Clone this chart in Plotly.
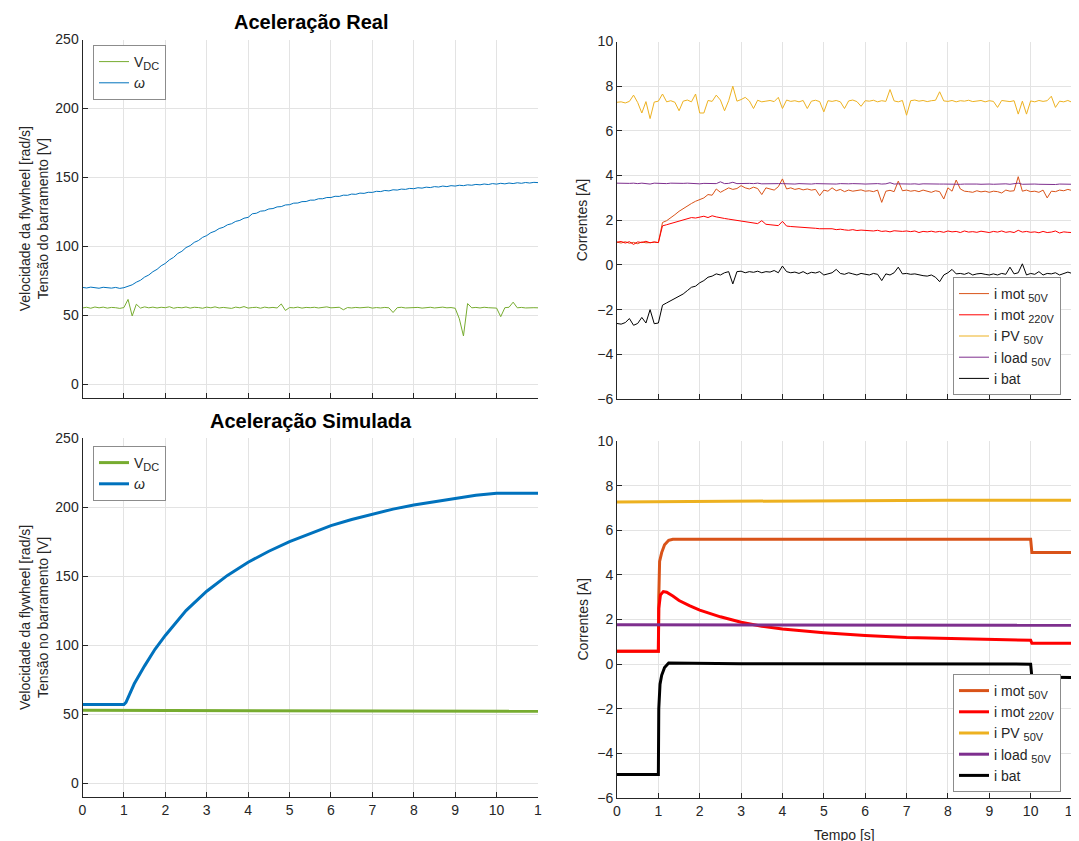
import plotly.graph_objects as go

# ---------------- DATA ----------------
TIME_REAL = [0.0, 0.1, 0.2, 0.3, 0.4, 0.5, 0.6, 0.7, 0.8, 0.9, 1.0,
             1.1, 1.2, 1.3, 1.4, 1.5, 1.6, 1.7, 1.8, 1.9, 2.0,
             2.1, 2.2, 2.3, 2.4, 2.5, 2.6, 2.7, 2.8, 2.9, 3.0,
             3.1, 3.2, 3.3, 3.4, 3.5, 3.6, 3.7, 3.8, 3.9, 4.0,
             4.1, 4.2, 4.3, 4.4, 4.5, 4.6, 4.7, 4.8, 4.9, 5.0,
             5.1, 5.2, 5.3, 5.4, 5.5, 5.6, 5.7, 5.8, 5.9, 6.0,
             6.1, 6.2, 6.3, 6.4, 6.5, 6.6, 6.7, 6.8, 6.9, 7.0,
             7.1, 7.2, 7.3, 7.4, 7.5, 7.6, 7.7, 7.8, 7.9, 8.0,
             8.1, 8.2, 8.3, 8.4, 8.5, 8.6, 8.7, 8.8, 8.9, 9.0,
             9.1, 9.2, 9.3, 9.4, 9.5, 9.6, 9.7, 9.8, 9.9, 10.0,
             10.1, 10.2, 10.3, 10.4, 10.5, 10.6, 10.7, 10.8, 10.9, 11.0]

VDC_REAL = [55.3, 55.8, 55.1, 56.0, 55.4, 55.9, 55.2, 55.7, 55.5, 55.0, 55.6,
            61.5, 49.5, 58.0, 55.2, 56.1, 55.4, 55.9, 55.3, 55.8, 55.5,
            56.2, 55.1, 55.7, 55.4, 56.0, 55.2, 55.8, 55.6, 55.1, 55.9,
            55.4, 56.1, 55.3, 55.7, 55.5, 55.0, 55.9, 55.4, 56.3, 55.2,
            55.6, 55.8, 55.1, 55.9, 55.4, 55.7, 55.3, 58.2, 53.5, 55.6,
            55.4, 55.9, 55.2, 55.7, 55.5, 55.8, 55.3, 55.6, 56.1, 55.4,
            55.5, 55.8, 54.0, 55.6, 55.3, 55.7, 55.4, 55.5, 55.9, 55.2,
            55.6, 55.3, 55.7, 55.4, 52.0, 55.5, 55.8, 55.3, 55.6, 55.4,
            55.7, 55.2, 55.6, 55.8, 55.3, 55.5, 55.9, 55.4, 55.6, 55.1,
            47.5, 35.0, 58.5, 55.4, 55.7, 55.3, 55.8, 55.5, 55.6, 55.2,
            49.0, 55.5, 55.8, 59.5, 55.4, 55.7, 55.3, 55.6, 55.5, 55.4]

OMEGA_REAL = [70.2, 69.8, 70.4, 70.0, 69.6, 70.3, 70.1, 69.7, 70.2, 69.5, 70.0,
              70.8, 72.1, 74.0, 75.4, 77.7, 79.2, 81.6, 83.3, 85.9, 87.6,
              90.2, 92.0, 94.8, 96.4, 99.1, 100.5, 102.9, 104.2, 106.5, 107.8,
              109.9, 111.0, 112.9, 113.8, 115.6, 116.4, 118.1, 118.8, 120.4, 121.0,
              123.6, 124.0, 125.5, 125.8, 127.1, 127.4, 128.6, 128.8, 130.0, 130.2,
              131.3, 131.4, 132.4, 132.5, 133.5, 133.5, 134.5, 134.5, 135.4, 135.4,
              136.3, 136.2, 137.1, 137.0, 137.9, 137.7, 138.6, 138.4, 139.2, 139.1,
              139.9, 139.7, 140.5, 140.2, 141.0, 140.8, 141.5, 141.3, 142.0, 141.8,
              142.5, 142.2, 142.9, 142.6, 143.3, 143.0, 143.7, 143.3, 144.0, 143.7,
              144.3, 144.0, 144.6, 144.3, 144.9, 144.6, 145.2, 144.8, 145.5, 145.1,
              145.7, 145.3, 145.9, 145.5, 146.1, 145.7, 146.3, 145.9, 146.4, 146.2]

IMOT50_REAL = [1.02, 0.98, 1.04, 0.97, 1.01, 0.95, 1.03, 0.99, 1.00, 1.02, 1.00,
               1.90, 1.98, 2.10, 2.25, 2.40, 2.52, 2.65, 2.75, 2.85, 2.93,
               3.00, 3.15, 3.12, 3.40, 3.25, 3.35, 3.45, 3.38, 3.42, 3.55,
               3.45, 3.40, 3.48, 3.42, 3.15, 3.45, 3.40, 3.35, 3.50, 3.85,
               3.40, 3.45, 3.38, 3.42, 3.36, 3.40, 3.35, 3.38, 3.10, 3.35,
               3.30, 3.45, 3.32, 3.38, 3.28, 3.35, 3.30, 3.33, 3.36, 3.30,
               3.32, 3.28, 3.35, 2.80, 3.30, 3.34, 3.28, 3.75, 3.32, 3.35,
               3.30, 3.33, 3.28, 3.35, 3.30, 3.25, 3.32, 3.28, 2.95, 3.45,
               3.30, 3.80, 3.40, 3.30, 3.28, 3.25, 3.32, 3.27, 3.30, 3.25,
               3.30, 3.28, 3.22, 3.35, 3.30, 3.32, 3.95, 3.30, 3.35, 3.28,
               3.30, 3.25, 3.35, 3.00, 3.30, 3.28, 3.35, 3.32, 3.38, 3.33]

IMOT220_REAL = [1.02, 1.05, 0.98, 1.04, 0.92, 1.03, 1.00, 1.06, 0.99, 1.03, 1.00,
                1.75, 1.80, 1.85, 1.92, 1.98, 2.02, 2.08, 2.12, 2.10, 2.15,
                2.18, 2.12, 2.20, 2.15, 2.10, 2.08, 2.05, 2.02, 1.98, 1.95,
                1.92, 1.90, 1.88, 1.85, 1.98, 1.82, 1.80, 1.78, 1.76, 1.95,
                1.74, 1.72, 1.71, 1.70, 1.68, 1.66, 1.68, 1.64, 1.62, 1.62,
                1.60, 1.62, 1.58, 1.60, 1.57, 1.55, 1.58, 1.54, 1.56, 1.55,
                1.53, 1.52, 1.55, 1.50, 1.52, 1.48, 1.53, 1.51, 1.50, 1.52,
                1.49, 1.52, 1.45, 1.50, 1.48, 1.51, 1.47, 1.50, 1.46, 1.52,
                1.48, 1.50, 1.45, 1.52, 1.47, 1.49, 1.46, 1.51, 1.48, 1.45,
                1.50, 1.47, 1.52, 1.46, 1.49, 1.45, 1.55, 1.47, 1.50, 1.46,
                1.48, 1.44, 1.50, 1.45, 1.47, 1.52, 1.43, 1.48, 1.46, 1.45]

IPV_REAL = [7.28, 7.30, 7.25, 7.32, 7.60, 7.27, 6.80, 7.31, 6.55, 7.29, 7.33,
            7.65, 7.30, 7.35, 7.28, 6.90, 7.33, 7.38, 7.30, 7.65, 6.80,
            6.80, 7.36, 7.32, 7.60, 7.38, 6.90, 7.35, 8.00, 7.33, 7.40,
            7.50, 7.34, 7.00, 7.37, 7.30, 7.33, 7.36, 7.31, 7.50, 7.00,
            7.38, 7.32, 7.35, 7.30, 7.36, 7.00, 7.33, 7.37, 7.31, 6.85,
            7.35, 7.32, 7.36, 7.30, 7.00, 7.34, 7.38, 7.31, 7.10, 7.35,
            7.33, 7.37, 7.30, 7.35, 7.32, 7.85, 7.34, 7.30, 7.36, 6.70,
            7.35, 7.38, 7.33, 7.36, 7.31, 7.35, 7.37, 7.75, 7.34, 7.32,
            7.36, 7.30, 7.35, 7.33, 7.37, 7.31, 7.34, 7.36, 7.30, 7.35,
            7.32, 7.05, 7.36, 7.34, 7.31, 7.35, 6.75, 7.33, 6.75, 7.34,
            7.30, 7.36, 7.32, 7.35, 7.55, 7.05, 7.33, 7.30, 7.36, 7.28]

ILOAD_REAL = [3.66, 3.65, 3.67, 3.65, 3.66, 3.64, 3.66, 3.65, 3.62, 3.66, 3.65,
              3.65, 3.64, 3.66, 3.65, 3.64, 3.65, 3.66, 3.64, 3.65, 3.63,
              3.65, 3.64, 3.66, 3.64, 3.72, 3.64, 3.65, 3.70, 3.64, 3.65,
              3.63, 3.65, 3.64, 3.66, 3.63, 3.64, 3.65, 3.63, 3.64, 3.64,
              3.63, 3.65, 3.62, 3.64, 3.63, 3.64, 3.62, 3.64, 3.63, 3.62,
              3.64, 3.63, 3.62, 3.64, 3.62, 3.63, 3.64, 3.62, 3.63, 3.62,
              3.63, 3.62, 3.64, 3.62, 3.63, 3.68, 3.62, 3.63, 3.62, 3.63,
              3.62, 3.63, 3.61, 3.63, 3.62, 3.61, 3.63, 3.62, 3.62, 3.61,
              3.63, 3.62, 3.61, 3.62, 3.63, 3.61, 3.62, 3.61, 3.63, 3.62,
              3.61, 3.62, 3.61, 3.63, 3.61, 3.62, 3.66, 3.61, 3.62, 3.61,
              3.62, 3.61, 3.60, 3.62, 3.61, 3.60, 3.62, 3.61, 3.60, 3.61]

IBAT_REAL = [-2.62, -2.65, -2.58, -2.40, -2.70, -2.62, -2.35, -2.60, -2.00, -2.63, -2.60,
             -1.80, -1.70, -1.60, -1.50, -1.40, -1.30, -1.15, -1.00, -0.95, -0.80,
             -0.70, -0.55, -0.50, -0.40, -0.45, -0.35, -0.30, -0.85, -0.30, -0.28,
             -0.35, -0.30, -0.33, -0.28, -0.35, -0.30, -0.32, -0.25, -0.35, -0.05,
             -0.30, -0.35, -0.32, -0.38, -0.30, -0.40, -0.33, -0.36, -0.30, -0.45,
             -0.40, -0.35, -0.20, -0.38, -0.42, -0.35, -0.40, -0.45, -0.38, -0.40,
             -0.45, -0.38, -0.42, -0.70, -0.40, -0.45, -0.35, -0.10, -0.40, -0.38,
             -0.42, -0.40, -0.45, -0.48, -0.50, -0.45, -0.55, -0.75, -0.45, -0.35,
             -0.20, -0.40, -0.38, -0.42, -0.35, -0.45, -0.40, -0.38, -0.42, -0.45,
             -0.40, -0.45, -0.38, -0.42, -0.10, -0.40, -0.35, 0.05, -0.45, -0.38,
             -0.42, -0.30, -0.45, -0.38, -0.40, -0.35, -0.45, -0.40, -0.32, -0.38]

# Simulated
T_OMEGA_SIM = [0, 1.0, 1.05, 1.25, 1.5, 1.75, 2.0, 2.5, 3.0, 3.5, 4.0, 4.5, 5.0, 5.5,
               6.0, 6.5, 7.0, 7.5, 8.0, 8.5, 9.0, 9.5, 10.0, 11.0]
OMEGA_SIM = [57, 57, 58.5, 72, 85, 97, 107, 125, 139, 150.5, 160, 168, 175, 181,
             186.5, 191, 195, 198.5, 201.5, 204, 206.5, 208.5, 210, 210]
T_VDC_SIM = [0, 1.0, 3.0, 6.0, 9.0, 11.0]
VDC_SIM = [52.8, 52.7, 52.4, 52.2, 52.1, 52.1]

T_IMOT50_SIM = [0, 1.0, 1.01, 1.03, 1.08, 1.15, 1.25, 1.35, 1.5, 10.0, 10.03, 11.0]
IMOT50_SIM = [0.58, 0.58, 3.0, 4.6, 5.0, 5.35, 5.55, 5.6, 5.6, 5.6, 5.0, 5.0]
T_IMOT220_SIM = [0, 1.0, 1.01, 1.05, 1.12, 1.2, 1.35, 1.5, 1.75, 2.0, 2.5, 3.0, 3.5,
                 4.0, 5.0, 6.0, 7.0, 8.0, 9.0, 10.0, 10.03, 11.0]
IMOT220_SIM = [0.58, 0.58, 2.5, 3.1, 3.25, 3.22, 3.05, 2.85, 2.62, 2.42, 2.12, 1.88, 1.70,
               1.57, 1.41, 1.28, 1.19, 1.14, 1.10, 1.07, 0.93, 0.93]
T_IPV_SIM = [0, 1.0, 1.2, 2.0, 4.0, 6.0, 8.0, 11.0]
IPV_SIM = [7.27, 7.28, 7.30, 7.32, 7.34, 7.35, 7.35, 7.35]
T_ILOAD_SIM = [0, 5.0, 11.0]
ILOAD_SIM = [1.76, 1.75, 1.74]
T_IBAT_SIM = [0, 1.0, 1.01, 1.04, 1.08, 1.15, 1.25, 1.4, 3.0, 10.0, 10.03, 11.0]
IBAT_SIM = [-4.95, -4.95, -2.0, -0.9, -0.5, -0.15, 0.05, 0.05, 0.02, 0.0, -0.58, -0.60]

X_TICKS = [0, 1, 2, 3, 4, 5, 6, 7, 8, 9, 10, 11]
X_TEXT_LEFT = ["0", "1", "2", "3", "4", "5", "6", "7", "8", "9", "10", "1"]
X_TEXT_RIGHT = ["0", "1", "2", "3", "4", "5", "6", "7", "8", "9", "10", "11"]
Y_TICKS_LEFT = [0, 50, 100, 150, 200, 250]
Y_TICKS_RIGHT = [-6, -4, -2, 0, 2, 4, 6, 8, 10]

C_GREEN = "#77AC30"
C_BLUE = "#0072BD"
C_ORANGE = "#D95319"
C_RED = "#FF0000"
C_YELLOW = "#EDB120"
C_PURPLE = "#7E2F8E"
C_BLACK = "#000000"

FONT = "Liberation Sans, Arial, Helvetica, sans-serif"
AX = "#262626"
# page body has an 8px margin: figure placed at (8, 8) in the window
OFF = 8
W, H = 1079 - OFF, 841 - OFF


def px(x):
    return (x - OFF) / W


def py(y):
    return 1 - (y - OFF) / H


def sub(t):
    return "<sub><span style='font-size:11px'>" + t + "</span></sub>"


fig = go.Figure()


def add(x, y, name, color, width, xa, ya, legend):
    fig.add_trace(go.Scatter(x=x, y=y, name=name, mode="lines",
                             line=dict(color=color, width=width),
                             xaxis=xa, yaxis=ya, legend=legend))


N_VDC = "V" + sub("DC")
N_W = "<i>ω</i>"
N_M50 = "i mot " + sub("50V")
N_M220 = "i mot " + sub("220V")
N_PV = "i PV " + sub("50V")
N_LD = "i load " + sub("50V")
N_BAT = "i bat"

# top-left (real)
add(TIME_REAL, VDC_REAL, N_VDC, C_GREEN, 1, "x", "y", "legend")
add(TIME_REAL, OMEGA_REAL, N_W, C_BLUE, 1, "x", "y", "legend")
# top-right (real currents)
add(TIME_REAL, IMOT50_REAL, N_M50, C_ORANGE, 1, "x2", "y2", "legend2")
add(TIME_REAL, IMOT220_REAL, N_M220, C_RED, 1, "x2", "y2", "legend2")
add(TIME_REAL, IPV_REAL, N_PV, C_YELLOW, 1, "x2", "y2", "legend2")
add(TIME_REAL, ILOAD_REAL, N_LD, C_PURPLE, 1, "x2", "y2", "legend2")
add(TIME_REAL, IBAT_REAL, N_BAT, C_BLACK, 1, "x2", "y2", "legend2")
# bottom-left (simulated)
add(T_VDC_SIM, VDC_SIM, N_VDC, C_GREEN, 3, "x3", "y3", "legend3")
add(T_OMEGA_SIM, OMEGA_SIM, N_W, C_BLUE, 3, "x3", "y3", "legend3")
# bottom-right (simulated currents)
add(T_IMOT50_SIM, IMOT50_SIM, N_M50, C_ORANGE, 3, "x4", "y4", "legend4")
add(T_IMOT220_SIM, IMOT220_SIM, N_M220, C_RED, 3, "x4", "y4", "legend4")
add(T_IPV_SIM, IPV_SIM, N_PV, C_YELLOW, 3, "x4", "y4", "legend4")
add(T_ILOAD_SIM, ILOAD_SIM, N_LD, C_PURPLE, 3, "x4", "y4", "legend4")
add(T_IBAT_SIM, IBAT_SIM, N_BAT, C_BLACK, 3, "x4", "y4", "legend4")


def xaxis(dom, anchor, text, labels):
    return dict(domain=dom, anchor=anchor, range=[0, 11], tickvals=X_TICKS,
                ticktext=text, showticklabels=labels, ticks="inside", ticklen=5,
                tickcolor=AX, showline=True, linecolor=AX, linewidth=1,
                showgrid=True, gridcolor="#e3e3e3", zeroline=False,
                ticklabeloverflow="allow",
                tickfont=dict(family=FONT, size=14, color=AX))


def yaxis(dom, anchor, rng, vals):
    return dict(domain=dom, anchor=anchor, range=rng, tickvals=vals,
                ticks="inside", ticklen=5, tickcolor=AX, showline=True,
                linecolor=AX, linewidth=1, showgrid=True, gridcolor="#e3e3e3",
                zeroline=False, tickfont=dict(family=FONT, size=14, color=AX))


LX = [px(82.5), px(538)]
RX = [px(617), px(1072)]
TLY = [py(398), py(39.5)]
TRY = [py(399), py(41.5)]
BLY = [py(797), py(438)]
BRY = [py(798), py(441)]


def legend(x, y):
    return dict(x=x, y=y, xanchor="left", yanchor="top", bgcolor="white",
                bordercolor="#8c8c8c", borderwidth=1,
                font=dict(family=FONT, size=14, color=AX), tracegroupgap=0)


fig.update_layout(
    width=W, height=H, margin=dict(l=0, r=0, t=0, b=0),
    paper_bgcolor="white", plot_bgcolor="white", template="none",
    showlegend=True,
    xaxis=xaxis(LX, "y", X_TEXT_LEFT, False),
    yaxis=yaxis(TLY, "x", [-10, 250], Y_TICKS_LEFT),
    xaxis2=xaxis(RX, "y2", X_TEXT_RIGHT, False),
    yaxis2=yaxis(TRY, "x2", [-6, 10], Y_TICKS_RIGHT),
    xaxis3=xaxis(LX, "y3", X_TEXT_LEFT, True),
    yaxis3=yaxis(BLY, "x3", [-10, 250], Y_TICKS_LEFT),
    xaxis4=xaxis(RX, "y4", X_TEXT_RIGHT, True),
    yaxis4=yaxis(BRY, "x4", [-6, 10], Y_TICKS_RIGHT),
    legend=legend(px(93), py(45)),
    legend2=legend(px(953), py(277)),
    legend3=legend(px(93), py(446)),
    legend4=legend(px(953), py(674)),
)

for text, y in [("<b>Aceleração Real</b>", 22), ("<b>Aceleração Simulada</b>", 421)]:
    fig.add_annotation(text=text, x=px(311), y=py(y), xref="paper", yref="paper",
                       showarrow=False, xanchor="center", yanchor="middle",
                       font=dict(family=FONT, size=20, color="#000000"))

ytitle_left = "Velocidade da flywheel [rad/s]<br>Tensão do barramento [V]"
ytitle_left2 = "Velocidade da flywheel [rad/s]<br>Tensão no barramento [V]"
for txt, dom in [(ytitle_left, TLY), (ytitle_left2, BLY)]:
    fig.add_annotation(text=txt, x=px(33.5), y=(dom[0] + dom[1]) / 2, xref="paper",
                       yref="paper", showarrow=False, textangle=-90,
                       xanchor="center", yanchor="middle",
                       font=dict(family=FONT, size=14, color=AX))
for dom in [TRY, BRY]:
    fig.add_annotation(text="Correntes [A]", x=px(582), y=(dom[0] + dom[1]) / 2,
                       xref="paper", yref="paper", showarrow=False, textangle=-90,
                       xanchor="center", yanchor="middle",
                       font=dict(family=FONT, size=14, color=AX))
fig.add_annotation(text="Tempo [s]", x=px(844), y=py(835), xref="paper",
                   yref="paper", showarrow=False, xanchor="center", yanchor="middle",
                   font=dict(family=FONT, size=14, color=AX))

fig.write_html("out.html")
